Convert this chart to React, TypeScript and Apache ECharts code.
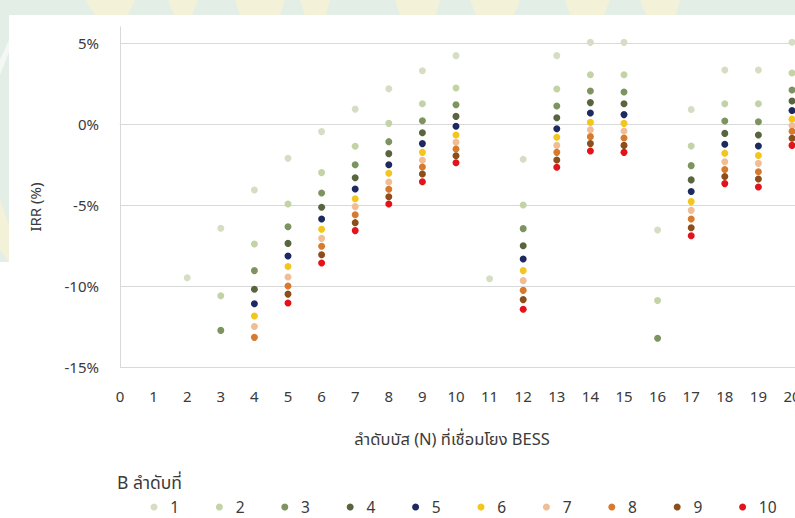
import React, { useEffect, useRef } from "react";
import * as echarts from "echarts";

// x positions: bus index N = 0..20 (value = IRR %), null = no point
const busIndex = [0, 1, 2, 3, 4, 5, 6, 7, 8, 9, 10, 11, 12, 13, 14, 15, 16, 17, 18, 19, 20];
const seriesNames = ["1", "2", "3", "4", "5", "6", "7", "8", "9", "10"];
const seriesColors = [
  "#d5dec4", "#c3d3a5", "#7e9460", "#59653f", "#1c2a5f",
  "#f4c51a", "#f1bd95", "#d77a2d", "#8c4e1a", "#e3121b",
];

const s1 = [null, null, -9.49, -6.44, -4.07, -2.12, -0.47, 0.92, 2.18, 3.29, 4.22, -9.55, -2.18, 4.22, 5.04, 5.04, -6.54, 0.9, 3.33, 3.33, 5.05];
const s2 = [null, null, null, -10.6, -7.41, -4.94, -3.0, -1.37, 0.04, 1.25, 2.22, null, -5.0, 2.16, 3.04, 3.04, -10.9, -1.36, 1.25, 1.25, 3.15];
const s3 = [null, null, null, -12.74, -9.05, -6.34, -4.26, -2.52, -1.09, 0.2, 1.19, null, -6.46, 1.11, 2.04, 1.98, -13.23, -2.57, 0.19, 0.14, 2.1];
const s4 = [null, null, null, null, -10.2, -7.37, -5.14, -3.32, -1.83, -0.54, 0.47, null, -7.51, 0.39, 1.32, 1.25, null, -3.45, -0.58, -0.68, 1.42];
const s5 = [null, null, null, null, -11.1, -8.15, -5.86, -4.01, -2.51, -1.21, -0.14, null, -8.33, -0.29, 0.68, 0.58, null, -4.17, -1.25, -1.36, 0.83];
const s6 = [null, null, null, null, -11.85, -8.8, -6.5, -4.61, -3.04, -1.75, -0.68, null, -9.05, -0.82, 0.1, 0.04, null, -4.79, -1.8, -1.94, 0.3];
const s7 = [null, null, null, null, -12.5, -9.44, -7.06, -5.1, -3.58, -2.24, -1.13, null, -9.67, -1.32, -0.35, -0.43, null, -5.33, -2.33, -2.43, -0.1];
const s8 = [null, null, null, null, -13.17, -10.0, -7.55, -5.6, -4.03, -2.65, -1.54, null, -10.27, -1.75, -0.78, -0.86, null, -5.86, -2.81, -2.95, -0.45];
const s9 = [null, null, null, null, null, -10.5, -8.07, -6.09, -4.49, -3.09, -1.96, null, -10.84, -2.22, -1.21, -1.32, null, -6.4, -3.24, -3.4, -0.88];
const s10 = [null, null, null, null, null, -11.05, -8.58, -6.58, -4.94, -3.56, -2.39, null, -11.44, -2.67, -1.67, -1.75, null, -6.9, -3.68, -3.89, -1.32];

const allSeries = [s1, s2, s3, s4, s5, s6, s7, s8, s9, s10];

const xAxisTitle = "ลำดับบัส (N) ที่เชื่อมโยง BESS";
const yAxisTitle = "IRR (%)";
const legendTitle = "B ลำดับที่";

const FONT = "'Noto Sans', 'Noto Sans Thai', 'DejaVu Sans', sans-serif";
const TEXT = "#3a3a3a";

export default function App() {
  const ref = useRef<HTMLDivElement>(null);

  useEffect(() => {
    if (!ref.current) return;
    const chart = echarts.init(ref.current, undefined, { renderer: "svg" });

    const series = allSeries.map((vals, i) => ({
      name: seriesNames[i],
      type: "scatter",
      symbol: "circle",
      symbolSize: 7,
      itemStyle: { color: seriesColors[i], opacity: 1 },
      data: vals
        .map((v, k) => (v == null ? null : [busIndex[k], v]))
        .filter((d) => d != null),
      z: 2 + i,
    }));

    const legends = seriesNames.map((n, i) => ({
      data: [{ name: n, icon: "circle" }],
      left: 150.5 + i * 65.4,
      top: 499,
      itemWidth: 7,
      itemHeight: 7,
      padding: 0,
      formatter: (name: string) => `\u2002${name}`,
      textStyle: { fontFamily: FONT, fontSize: 15.5, lineHeight: 16, color: TEXT },
    }));

    const strip = "#e3efe6";
    const deco = "#f3f1d8";

    chart.setOption({
      animation: false,
      backgroundColor: "#ffffff",
      textStyle: { fontFamily: FONT },
      grid: { left: 120, top: 26.8, width: 688.8, height: 340.2, containLabel: false },
      xAxis: {
        type: "value",
        min: 0,
        max: 20.5,
        interval: 1,
        axisLine: { show: true, lineStyle: { color: "#d9d9d9", width: 1 } },
        axisTick: { show: false },
        splitLine: { show: false },
        axisLabel: { margin: 21, fontSize: 15, color: TEXT, fontFamily: FONT, showMaxLabel: false },
      },
      yAxis: {
        type: "value",
        min: -15,
        max: 6,
        interval: 5,
        axisLine: { show: true, onZero: false, lineStyle: { color: "#d9d9d9", width: 1 } },
        axisTick: { show: false },
        splitLine: { show: true, showMaxLine: false, lineStyle: { color: "#d9d9d9", width: 1 } },
        axisLabel: {
          margin: 21,
          fontSize: 15,
          color: TEXT,
          fontFamily: FONT,
          showMaxLabel: false,
          formatter: (v: number) => (v > 5 ? "" : `${v}%`),
        },
      },
      legend: legends,
      graphic: [
        { type: "rect", z: -10, silent: true, shape: { x: 0, y: 0, width: 840, height: 15 }, style: { fill: strip } },
        { type: "rect", z: -10, silent: true, shape: { x: 0, y: 0, width: 9, height: 262 }, style: { fill: strip } },
        { type: "polygon", z: -9, silent: true, shape: { points: [[85, 0], [135, 0], [128, 15], [95, 15]] }, style: { fill: deco } },
        { type: "polygon", z: -9, silent: true, shape: { points: [[168, 0], [198, 0], [192, 15], [174, 15]] }, style: { fill: deco } },
        { type: "polygon", z: -9, silent: true, shape: { points: [[235, 0], [285, 0], [280, 15], [240, 15]] }, style: { fill: deco } },
        { type: "polygon", z: -9, silent: true, shape: { points: [[300, 0], [330, 0], [326, 15], [305, 15]] }, style: { fill: deco } },
        { type: "polygon", z: -9, silent: true, shape: { points: [[395, 0], [440, 0], [436, 15], [400, 15]] }, style: { fill: deco } },
        { type: "polygon", z: -9, silent: true, shape: { points: [[470, 0], [520, 0], [514, 15], [476, 15]] }, style: { fill: deco } },
        { type: "polygon", z: -9, silent: true, shape: { points: [[565, 0], [610, 0], [604, 15], [570, 15]] }, style: { fill: deco } },
        { type: "polygon", z: -9, silent: true, shape: { points: [[640, 0], [680, 0], [676, 15], [646, 15]] }, style: { fill: deco } },
        { type: "polygon", z: -9, silent: true, shape: { points: [[0, 200], [9, 225], [9, 262], [0, 250]] }, style: { fill: deco } },
        { type: "polygon", z: -9, silent: true, shape: { points: [[0, 60], [9, 40], [9, 52], [0, 75]] }, style: { fill: "#f4f8f5" } },
        {
          type: "text",
          x: 35,
          y: 207,
          rotation: Math.PI / 2,
          silent: true,
          style: {
            text: yAxisTitle,
            fontSize: 15,
            fill: TEXT,
            fontFamily: FONT,
            align: "center",
            verticalAlign: "middle",
          },
        },
        {
          type: "text",
          x: 452,
          y: 438,
          silent: true,
          style: {
            text: xAxisTitle,
            fontSize: 16.5,
            fill: TEXT,
            fontFamily: FONT,
            align: "center",
            verticalAlign: "middle",
          },
        },
        {
          type: "text",
          x: 117,
          y: 482,
          silent: true,
          style: {
            text: legendTitle,
            fontSize: 17.5,
            fill: TEXT,
            fontFamily: FONT,
            align: "left",
            verticalAlign: "middle",
          },
        },
      ],
      series,
    });

    return () => chart.dispose();
  }, []);

  return (
    <div style={{ position: "fixed", left: 0, top: 0, width: 795, height: 518, overflow: "hidden", background: "#fff" }}>
      <div ref={ref} style={{ width: 840, height: 518 }} />
    </div>
  );
}
